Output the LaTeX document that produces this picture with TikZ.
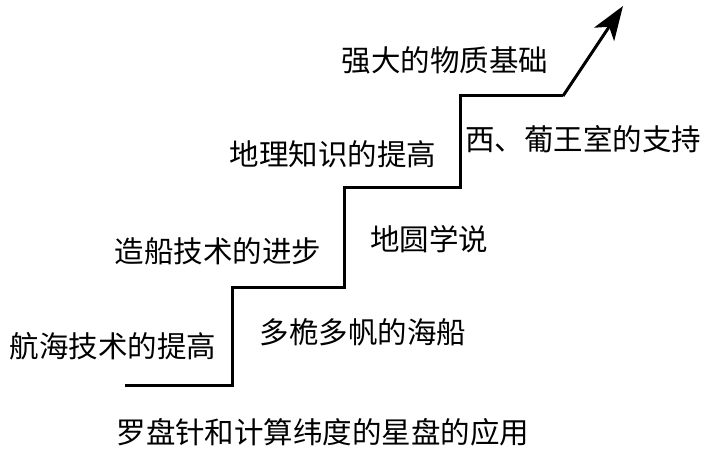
\documentclass[tikz,border=0pt]{standalone}
\usepackage{fontspec}
\setmainfont{Noto Sans CJK SC}
\usetikzlibrary{arrows.meta}
\begin{document}
\begin{tikzpicture}[x=1pt,y=-1pt,
  lbl/.style={inner sep=0pt, font=\fontsize{29.5}{32}\selectfont},
  stair/.style={line width=3pt, line join=miter},
  tip/.style={-{Stealth[length=34pt,width=24pt,inset=9pt]}}]
\useasboundingbox[fill=white] (0,0) rectangle (716,449);
\coordinate (s0) at (125,386);
\coordinate (s1) at (232,386);
\coordinate (s2) at (232,288);
\coordinate (s3) at (344,288);
\coordinate (s4) at (344,188);
\coordinate (s5) at (460,188);
\coordinate (s6) at (460,96);
\coordinate (s7) at (563,96);
\coordinate (s8) at (623,6);
\draw[stair] (s0) -- (s1) -- (s2) -- (s3) -- (s4) -- (s5) -- (s6) -- (s7);
\draw[stair,tip] (s7) -- (s8);
\node[lbl] (t1) at (445,60) {强大的物质基础};
\node[lbl] (t2) at (333,154) {地理知识的提高};
\node[lbl] (t3) at (583,139) {西、葡王室的支持};
\node[lbl] (t4) at (218,251) {造船技术的进步};
\node[lbl] (t5) at (429,239) {地圆学说};
\node[lbl] (t6) at (113,346) {航海技术的提高};
\node[lbl] (t7) at (363,332) {多桅多帆的海船};
\node[lbl] (t8) at (323,432) {罗盘针和计算纬度的星盘的应用};
\end{tikzpicture}
\end{document}
